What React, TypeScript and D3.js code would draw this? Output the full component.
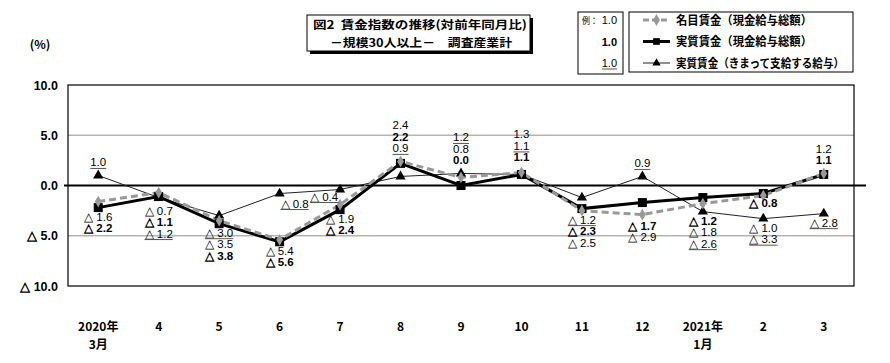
import React, { useEffect, useRef } from "react";
import * as d3 from "d3";

// months (two-line tick labels)
const monthTop = ["2020年", "4", "5", "6", "7", "8", "9", "10", "11", "12", "2021年", "2", "3"];
const monthSub = ["3月", "", "", "", "", "", "", "", "", "", "1月", "", ""];

// 名目賃金（現金給与総額）
const nominal = [-1.6, -0.7, -3.5, -5.4, -1.9, 2.4, 0.8, 1.3, -2.5, -2.9, -1.8, -1.0, 1.2];
// 実質賃金（現金給与総額）
const real = [-2.2, -1.1, -3.8, -5.6, -2.4, 2.2, 0.0, 1.1, -2.3, -1.7, -1.2, -0.8, 1.1];
// 実質賃金（きまって支給する給与）
const contract = [1.0, -1.2, -3.0, -0.8, -0.4, 0.9, 1.2, 1.1, -1.2, 0.9, -2.6, -3.3, -2.8];

const yTicks = [10, 5, 0, -5, -10];

// how value labels are stacked around each month
type Group = { side: "above" | "below" | "left" | "right"; keys: string[]; dy?: number };
const labelGroups: Group[][] = [
  [{ side: "above", keys: ["c"] }, { side: "below", keys: ["n", "r"] }],
  [{ side: "below", keys: ["n", "r", "c"], dy: 4 }],
  [{ side: "below", keys: ["c", "n", "r"] }],
  [{ side: "right", keys: ["c"] }, { side: "below", keys: ["n", "r"] }],
  [{ side: "left", keys: ["c"] }, { side: "below", keys: ["n", "r"] }],
  [{ side: "above", keys: ["n", "r", "c"] }],
  [{ side: "above", keys: ["c", "n", "r"] }],
  [{ side: "above", keys: ["n", "c", "r"], dy: -2 }],
  [{ side: "below", keys: ["c", "r", "n"] }],
  [{ side: "above", keys: ["c"] }, { side: "below", keys: ["r", "n"], dy: 2 }],
  [{ side: "below", keys: ["r", "n", "c"] }],
  [{ side: "below", keys: ["r"] }, { side: "below", keys: ["n", "c"] }],
  [{ side: "above", keys: ["n", "r"] }, { side: "below", keys: ["c"] }],
];

const fmt = (v: number) => (v < 0 ? "△ " + Math.abs(v).toFixed(1) : v.toFixed(1));

const JP = "'Noto Sans CJK JP', 'Noto Sans', sans-serif";
const NUM = "'Liberation Sans Narrow', 'Arial Narrow', 'Liberation Sans', sans-serif";

const App = () => {
  const svgRef = useRef<SVGSVGElement>(null);

  useEffect(() => {
    const svg = d3.select(svgRef.current);
    svg.selectAll("*").remove();

    const left = 68, right = 854, top = 85, bottom = 286;

    const x = d3.scaleBand<number>().domain(d3.range(monthTop.length)).range([left, right]);
    const cx = (i: number) => (x(i) as number) + x.bandwidth() / 2;
    const y = d3.scaleLinear().domain([-10, 10]).range([bottom, top]);

    // gridlines
    svg
      .selectAll(".grid")
      .data([5, -5])
      .enter()
      .append("line")
      .attr("x1", left)
      .attr("x2", right)
      .attr("y1", (d) => y(d))
      .attr("y2", (d) => y(d))
      .attr("stroke", "#b4b4b4")
      .attr("stroke-width", 1.5);

    // plot frame
    svg
      .append("rect")
      .attr("x", left)
      .attr("y", top)
      .attr("width", right - left)
      .attr("height", bottom - top)
      .attr("fill", "none")
      .attr("stroke", "#000")
      .attr("stroke-width", 1.2);

    // zero line
    svg
      .append("line")
      .attr("x1", left - 4)
      .attr("x2", right + 12)
      .attr("y1", y(0))
      .attr("y2", y(0))
      .attr("stroke", "#000")
      .attr("stroke-width", 2);

    // y axis
    const yAxis = svg
      .append("g")
      .attr("transform", `translate(${left},0)`)
      .call(
        d3
          .axisLeft(y)
          .tickValues(yTicks)
          .tickSize(0)
          .tickPadding(10)
          .tickFormat((d) => fmt(d as number))
      );
    yAxis.select(".domain").remove();
    yAxis
      .selectAll("text")
      .attr("font-family", "'Liberation Sans', sans-serif")
      .attr("font-size", 12.5)
      .attr("font-weight", "bold")
      .attr("fill", "#000");

    svg
      .append("text")
      .attr("x", 40)
      .attr("y", 49)
      .attr("text-anchor", "middle")
      .attr("font-family", JP)
      .attr("font-size", 12)
      .attr("font-weight", "bold")
      .text("(%)");

    // x labels
    const xl = svg.append("g").attr("font-family", JP).attr("font-size", 12).attr("font-weight", "bold");
    xl.selectAll(".xt")
      .data(monthTop)
      .enter()
      .append("text")
      .attr("x", (d, i) => cx(i))
      .attr("y", 331)
      .attr("text-anchor", "middle")
      .text((d) => d);
    xl.selectAll(".xs")
      .data(monthSub)
      .enter()
      .append("text")
      .attr("x", (d, i) => cx(i))
      .attr("y", 349)
      .attr("text-anchor", "middle")
      .text((d) => d);

    const line = d3
      .line<number>()
      .x((d, i) => cx(i))
      .y((d) => y(d));

    // lines
    svg.append("path").datum(contract).attr("d", line).attr("fill", "none").attr("stroke", "#222").attr("stroke-width", 1);
    svg.append("path").datum(real).attr("d", line).attr("fill", "none").attr("stroke", "#000").attr("stroke-width", 3);
    svg
      .append("path")
      .datum(nominal)
      .attr("d", line)
      .attr("fill", "none")
      .attr("stroke", "#999")
      .attr("stroke-width", 3)
      .attr("stroke-dasharray", "7,4");

    // markers
    const tri = d3.symbol().type(d3.symbolTriangle).size(45);
    const dia = d3.symbol().type(d3.symbolDiamond).size(40);

    svg
      .selectAll(".tri")
      .data(contract)
      .enter()
      .append("path")
      .attr("d", tri)
      .attr("transform", (d, i) => `translate(${cx(i)},${y(d)})`)
      .attr("fill", "#000");

    svg
      .selectAll(".sq")
      .data(real)
      .enter()
      .append("rect")
      .attr("x", (d, i) => cx(i) - 4.5)
      .attr("y", (d) => y(d) - 4.5)
      .attr("width", 9)
      .attr("height", 9)
      .attr("fill", "#000");

    svg
      .selectAll(".dia")
      .data(nominal)
      .enter()
      .append("path")
      .attr("d", dia)
      .attr("transform", (d, i) => `translate(${cx(i)},${y(d)})`)
      .attr("fill", "#999");

    // value labels
    const series: Record<string, number[]> = { n: nominal, r: real, c: contract };
    const lbl = svg.append("g").attr("font-family", NUM).attr("font-size", 11.5).attr("fill", "#000");
    const step = 11.5;

    const drawLabel = (key: string, v: number, tx: number, ty: number) => {
      const t = lbl
        .append("text")
        .attr("x", tx)
        .attr("y", ty)
        .attr("text-anchor", "middle")
        .attr("font-weight", key === "r" ? "bold" : "normal")
        .text(fmt(v));
      if (key === "c") {
        const b = (t.node() as SVGTextElement).getBBox();
        lbl
          .append("line")
          .attr("x1", b.x)
          .attr("x2", b.x + b.width)
          .attr("y1", ty + 2)
          .attr("y2", ty + 2)
          .attr("stroke", "#555")
          .attr("stroke-width", 1);
      }
    };

    labelGroups.forEach((groups, i) => {
      groups.forEach((g) => {
        const vals = g.keys.map((k) => series[k][i]);
        const dy = g.dy || 0;
        if (g.side === "above") {
          const base = y(d3.max(vals) as number) - 9 + dy;
          g.keys.forEach((k, j) => drawLabel(k, series[k][i], cx(i), base - (g.keys.length - 1 - j) * step));
        } else if (g.side === "below") {
          const base = y(d3.min(vals) as number) + 13 + dy;
          g.keys.forEach((k, j) => drawLabel(k, series[k][i], cx(i), base + j * step));
        } else if (g.side === "right") {
          drawLabel(g.keys[0], vals[0], cx(i) + 15, y(vals[0]) + 14);
        } else {
          drawLabel(g.keys[0], vals[0], cx(i) - 16, y(vals[0]) + 11);
        }
      });
    });

    // title box with shadow
    svg.append("rect").attr("x", 310).attr("y", 18).attr("width", 223).attr("height", 36).attr("fill", "#000");
    svg
      .append("rect")
      .attr("x", 307)
      .attr("y", 15)
      .attr("width", 223)
      .attr("height", 36)
      .attr("fill", "#fff")
      .attr("stroke", "#000")
      .attr("stroke-width", 1);
    const title = svg.append("g").attr("font-family", JP).attr("font-size", 11.5).attr("font-weight", "bold");
    title
      .append("text")
      .attr("x", 313)
      .attr("y", 29)
      .attr("textLength", 214)
      .attr("lengthAdjust", "spacingAndGlyphs")
      .text("図2\u00a0\u00a0賃金指数の推移(対前年同月比)");
    title
      .append("text")
      .attr("x", 330)
      .attr("y", 46.5)
      .attr("textLength", 182)
      .attr("lengthAdjust", "spacingAndGlyphs")
      .text("－規模30人以上－　調査産業計");

    // example box
    svg
      .append("rect")
      .attr("x", 578)
      .attr("y", 12)
      .attr("width", 45)
      .attr("height", 62)
      .attr("fill", "#fff")
      .attr("stroke", "#000");
    svg
      .append("text")
      .attr("x", 582)
      .attr("y", 24)
      .attr("font-family", JP)
      .attr("font-size", 9.5)
      .attr("textLength", 16)
      .attr("lengthAdjust", "spacingAndGlyphs")
      .text("例：");
    const ex = svg.append("g").attr("font-family", NUM).attr("font-size", 11).attr("text-anchor", "end");
    ex.append("text").attr("x", 617).attr("y", 24).text("1.0");
    ex.append("text").attr("x", 617).attr("y", 46).attr("font-weight", "bold").text("1.0");
    ex.append("text").attr("x", 617).attr("y", 67).text("1.0");
    ex.append("line").attr("x1", 602).attr("x2", 617).attr("y1", 69).attr("y2", 69).attr("stroke", "#555");

    // legend
    svg
      .append("rect")
      .attr("x", 629)
      .attr("y", 12)
      .attr("width", 224)
      .attr("height", 60)
      .attr("fill", "#fff")
      .attr("stroke", "#000");

    const legendData = [
      { label: "名目賃金（現金給与総額）", color: "#999", width: 3, dash: "6,3", mark: "dia", len: 136 },
      { label: "実質賃金（現金給与総額）", color: "#000", width: 3, dash: null, mark: "sq", len: 136 },
      { label: "実質賃金（きまって支給する給与）", color: "#222", width: 1, dash: null, mark: "tri", len: 168 },
    ];
    const lg = svg
      .append("g")
      .selectAll("g")
      .data(legendData)
      .enter()
      .append("g")
      .attr("transform", (d, i) => `translate(643,${20 + i * 21.5})`);
    lg.append("line")
      .attr("x1", 0)
      .attr("x2", 27)
      .attr("stroke", (d) => d.color)
      .attr("stroke-width", (d) => d.width)
      .attr("stroke-dasharray", (d) => d.dash);
    lg.append("path")
      .attr("d", (d) =>
        d.mark === "dia"
          ? dia()
          : d.mark === "tri"
          ? d3.symbol().type(d3.symbolTriangle).size(30)()
          : d3.symbol().type(d3.symbolSquare).size(45)()
      )
      .attr("transform", "translate(13.5,0)")
      .attr("fill", (d) => (d.mark === "dia" ? "#999" : "#000"));
    lg.append("text")
      .attr("x", 33)
      .attr("y", 4.5)
      .attr("font-family", JP)
      .attr("font-size", 12)
      .attr("font-weight", "bold")
      .attr("textLength", (d) => d.len)
      .attr("lengthAdjust", "spacingAndGlyphs")
      .text((d) => d.label);
  }, []);

  return (
    <div style={{ position: "absolute", left: 0, top: 0 }}>
      <svg ref={svgRef} width={890} height={363} style={{ display: "block", background: "#fff" }}></svg>
    </div>
  );
};

export default App;
